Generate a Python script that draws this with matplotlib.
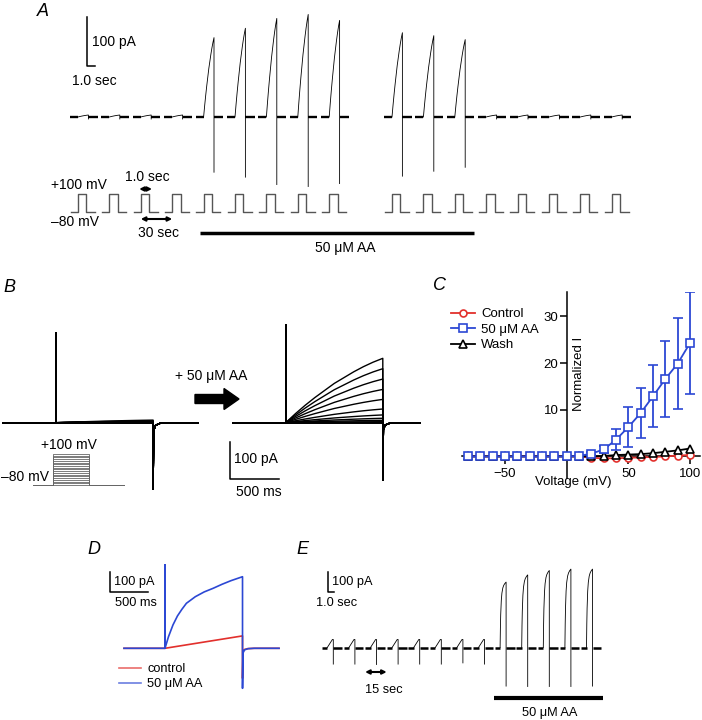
import matplotlib.pyplot as plt
from matplotlib import transforms
from matplotlib.patches import FancyArrow
from matplotlib.lines import Line2D

plt.rcParams['font.family'] = ['Liberation Sans', 'DejaVu Sans']

W, H = 702, 720

# A: one sweep every 30 s (slot 9 not recorded); peak and tail current, pA
a_slot = [0, 1, 2, 3, 4, 5, 6, 7, 8, 10, 11, 12, 13, 14, 15, 16, 17]
a_peak = [4, 4, 4, 4, 161, 180, 200, 208, 196, 171, 165, 157, 4, 4, 4, 4, 4]
a_tail = [-4, -4, -4, -4, -112, -122, -137, -141, -135, -120, -110, -102, -4, -4, -4, -4, -4]

# time course of the outward current during the step (fraction of step / of final value)
rise_t = [0, 0.1, 0.2, 0.3, 0.4, 0.5, 0.6, 0.7, 0.8, 0.9, 1.0]
rise_f = [0, 0.14, 0.27, 0.39, 0.50, 0.61, 0.70, 0.79, 0.87, 0.94, 1.0]

# B: 1 s steps from -80 to +100 mV, current at end of step, pA
b_volt = [100, 90, 80, 70, 60, 50, 40, 30, 20, 10, 0, -10, -20, -30, -40, -50, -60, -70, -80]
b_ctrl = [7, 5, 4, 3, 2.5, 2, 1.5, 1, 0.7, 0.4, 0.2, 0, 0, 0, 0, 0, 0, 0, 0]
b_aa = [174, 146, 118, 90, 63, 37, 21, 12, 6.5, 2.7, 1, 0.5, 0, 0, 0, 0, 0, 0, 0]
tail_t = [0, 6, 25, 70, 150]          # ms after end of step
tail_f = [1, 0.12, 0.04, 0.01, 0]

# C: normalised I-V
c_volt = [-80, -70, -60, -50, -40, -30, -20, -10, 0, 10, 20, 30, 40, 50, 60, 70, 80, 90, 100]
c_ctrl = [0, 0, 0, 0, 0, 0, 0, 0, 0, 0, -0.3, -0.4, -0.4, -0.3, -0.2, -0.1, 0.0, 0.2, 0.3]
c_aa = [0, 0, 0, 0, 0, 0, 0, 0, 0, 0.1, 0.6, 1.5, 3.6, 6.3, 9.3, 12.9, 16.6, 19.9, 24.3]
c_aa_err = [0, 0, 0, 0, 0, 0, 0, 0, 0, 0, 0.3, 0.8, 2.3, 4.2, 5.4, 6.7, 8.2, 9.7, 11.0]
c_wash = [0, 0, 0, 0, 0, 0, 0, 0, 0, 0, 0, 0.1, 0.3, 0.4, 0.5, 0.7, 1.0, 1.3, 1.7]

# D: averaged traces, ms from step onset / pA
d_t = [0, 45, 103, 161, 218, 276, 391, 506, 621, 735, 850, 1000]
d_aa = [0, 58, 117, 162, 195, 225, 258, 282, 300, 320, 338, 358]
d_ctrl_t = [0, 1000]
d_ctrl = [0, 62]
d_aa_spike = [417, -200]
d_ctrl_tail = -150

# E: one sweep every 15 s
e_drug = [0, 0, 0, 0, 0, 0, 0, 0, 1, 1, 1, 1, 1]
e_peak = [40, 40, 40, 40, 40, 40, 40, 40, 327, 363, 385, 392, 392]
e_tail = [-83, -83, -85, -83, -83, -83, -77, -83, -193, -195, -195, -195, -193]
e_rise_t = [0, 0.05, 0.1, 0.2, 0.3, 0.45, 0.6, 0.8, 1.0]
e_rise_f = [0, 0.3, 0.5, 0.72, 0.83, 0.91, 0.95, 0.98, 1.0]

red = '#e2302c'
blue = '#2c48d4'

fig = plt.figure(figsize=(W / 100, H / 100), dpi=100)


def px_axes(l, t, r, b, x0, sx, y0, sy):
    # axes over pixel box; data x -> px = x0 + sx*x, data y -> py = y0 - sy*y
    ax = fig.add_axes([l / W, 1 - b / H, (r - l) / W, (b - t) / H])
    ax.set_xlim((l - x0) / sx, (r - x0) / sx)
    ax.set_ylim((y0 - b) / sy, (y0 - t) / sy)
    ax.axis('off')
    return ax


def label(x, y, s, size=10, **kw):
    fig.text(x / W, 1 - y / H, s, fontsize=size, va='center', **kw)


def panel(x, y, s):
    label(x, y, s, size=13, style='italic')


ov = fig.add_axes([0, 0, 1, 1])
ov.set_xlim(0, W)
ov.set_ylim(H, 0)
ov.axis('off')
ov.set_zorder(10)

arrow_kw = dict(arrowstyle='<|-|>', color='k', lw=1.5, mutation_scale=6, shrinkA=0, shrinkB=0)

# ---------------- A
A_STEP = 3.925   # display seconds between sweeps (time axis broken)
A_RISE = 1.3
ax_a = px_axes(0, 5, W, 200, 78, 8.0, 117, 0.493)
for k, pk, tl in zip(a_slot, a_peak, a_tail):
    x0 = k * A_STEP
    x1 = x0 + A_RISE
    ax_a.plot([x0 - 1.0, x0], [0, 0], color='k', lw=1.7, solid_capstyle='butt')
    ax_a.plot([x0 + A_RISE * f for f in rise_t] + [x1],
              [pk * f for f in rise_f] + [tl], color='k', lw=0.6)
    ax_a.plot([x1, x1 + 1.15], [0, 0], color='k', lw=1.7, solid_capstyle='butt')
ax_a.plot([1.09, 1.09, 2.09], [203.4, 103.4, 103.4], color='k', lw=1.1)

ax_as = px_axes(0, 180, W, 230, 78, 8.0, 204, 0.0983)
for k in a_slot:
    x0 = k * A_STEP
    ax_as.plot([x0 - 0.9, x0, x0, x0 + 1.05, x0 + 1.05, x0 + 2.1],
               [-80, -80, 100, 100, -80, -80], color='#555555', lw=1.0)

bt_a = transforms.blended_transform_factory(ax_a.transData, ov.transData)
ov.plot([4 * A_STEP - 0.5, 12 * A_STEP + 2.4], [233, 233], color='k', lw=2.5,
        solid_capstyle='butt', transform=bt_a)
ov.annotate('', xy=(2 * A_STEP + 1.4, 189), xytext=(2 * A_STEP - 0.2, 189),
            xycoords=bt_a, textcoords=bt_a, arrowprops=arrow_kw)
ov.annotate('', xy=(3 * A_STEP, 219), xytext=(2 * A_STEP, 219),
            xycoords=bt_a, textcoords=bt_a, arrowprops=arrow_kw)

panel(37, 12, 'A')
label(92, 42, '100 pA')
label(72, 81, '1.0 sec')
label(51, 185, '+100 mV')
label(51, 222, '–80 mV')
label(147, 177, '1.0 sec', ha='center')
label(158, 233, '30 sec', ha='center')
label(345, 248, '50 μM AA', ha='center')

# ---------------- B
B_SX = 0.0971   # px per ms
ax_bl = px_axes(0, 300, 215, 500, 56, B_SX, 422.7, 0.37)
ax_br = px_axes(215, 300, 430, 500, 285.7, B_SX, 422.7, 0.37)
for ax, amps, up, dn, t_end in ((ax_bl, b_ctrl, 242, -179, 1463),
                                (ax_br, b_aa, 264, -155, 1383)):
    for a in amps:
        ts = [-545, 0, 0, 0] + [1000 * f for f in rise_t] + [1000 + d for d in tail_t] + [t_end]
        ys = [0, 0, up, 0] + [a * f for f in rise_f] + [dn * f for f in tail_f] + [0]
        ax.plot(ts, ys, color='k', lw=1.0)
ax_br.plot([-573.6, -573.6, -73.6], [-52.2, -152.2, -152.2], color='k', lw=1.1)

ax_bs = px_axes(0, 440, 140, 495, 53, 0.036, 471.2, 0.1722)
for v in b_volt:
    ax_bs.plot([-556, 0, 0, 1000, 1000, 1972], [-80, -80, v, v, -80, -80],
               color='#666666', lw=0.6)

ov.add_patch(FancyArrow(195, 399, 44, 0, width=9, head_width=21, head_length=15,
                        length_includes_head=True, color='k'))
panel(3, 287, 'B')
label(175, 376, '+ 50 μM AA')
label(69, 445, '+100 mV', ha='center')
label(1, 477, '–80 mV')
label(234, 459, '100 pA')
label(236, 492, '500 ms')

# ---------------- C
cl, ct, cr, cb = 461.9, 291.6, 699.9, 478.4
ax_c = fig.add_axes([cl / W, 1 - cb / H, (cr - cl) / W, (cb - ct) / H])
ax_c.patch.set_visible(False)
ax_c.set_xlim(-85, 108)
ax_c.set_ylim(-4.7, 35.3)
ax_c.spines[['top', 'right']].set_visible(False)
ax_c.spines['left'].set_position(('data', 0))
ax_c.spines['bottom'].set_position(('data', 0))
for s in ('left', 'bottom'):
    ax_c.spines[s].set_linewidth(1.1)
ax_c.set_xticks([-50, 50, 100])
ax_c.set_yticks([10, 20, 30])
ax_c.tick_params(axis='x', direction='out', length=6, width=1.1, pad=2, labelsize=9.5)
ax_c.tick_params(axis='y', direction='out', length=5, width=1.1, pad=1, labelsize=9.5)

mk = dict(mfc='white', mew=1.2, lw=1.3, clip_on=False)
ax_c.plot(c_volt, c_ctrl, '-o', color=red, ms=5, zorder=3, **mk)
ax_c.plot(c_volt, c_wash, '-^', color='k', ms=5.5, zorder=4, **mk)
ax_c.errorbar(c_volt, c_aa, yerr=c_aa_err, errorevery=[e > 0 for e in c_aa_err],
              fmt='-s', color=blue, ms=5.4, mfc='white', mew=1.2, lw=1.3,
              elinewidth=1.3, capsize=3.5, capthick=1.3, zorder=5)

c_handles = [Line2D([], [], color=red, marker='o', ms=5, mfc='white', mew=1.2, lw=1.3),
             Line2D([], [], color=blue, marker='s', ms=5.4, mfc='white', mew=1.2, lw=1.3),
             Line2D([], [], color='k', marker='^', ms=5.5, mfc='white', mew=1.2, lw=1.3)]
ax_c.legend(c_handles, ['Control', '50 μM AA', 'Wash'], loc='upper left',
            bbox_to_anchor=(451 / W, 1 - 308 / H), bbox_transform=fig.transFigure,
            frameon=False, fontsize=9.5, handlelength=1.8, handletextpad=0.5,
            labelspacing=0.25, borderpad=0, borderaxespad=0)

ax_c.set_xlabel('Voltage (mV)', fontsize=9.5)
ax_c.xaxis.set_label_coords((573 - cl) / (cr - cl), (cb - 482) / (cb - ct))
ax_c.xaxis.label.set_va('center')
ax_c.set_ylabel('Normalized I', fontsize=9.5)
ax_c.yaxis.set_label_coords((579.5 - cl) / (cr - cl), (cb - 373.5) / (cb - ct))
ax_c.yaxis.label.set_va('center')
panel(433, 286, 'C')

# ---------------- D
ax_d = px_axes(80, 540, 300, 700, 165, 1 / 12.9, 648.3, 0.2)
ax_d.plot([-529] + d_ctrl_t + [1000 + d for d in tail_t] + [1471],
          [0] + d_ctrl + [d_ctrl_tail * f for f in tail_f] + [0], color=red, lw=1.2)
ax_d.plot([-529, 0, 0, 0] + d_t + [1000 + d for d in tail_t] + [1471],
          [0, 0, d_aa_spike[0], 0] + d_aa + [d_aa_spike[1] * f for f in tail_f] + [0],
          color=blue, lw=1.2)
ax_d.plot([-713, -713, -213], [383, 283, 283], color='k', lw=1.1)
d_handles = [Line2D([], [], color=red, lw=1.2, alpha=0.7),
             Line2D([], [], color=blue, lw=1.2, alpha=0.7)]
ax_d.legend(d_handles, ['control', '50 μM AA'], loc='upper left',
            bbox_to_anchor=(119 / W, 1 - 663 / H), bbox_transform=fig.transFigure,
            frameon=False, fontsize=9.2, handlelength=1.7, handletextpad=0.5,
            labelspacing=0.25, borderpad=0, borderaxespad=0)
panel(87, 550, 'D')
label(114, 582, '100 pA', size=9.2)
label(115, 603, '500 ms', size=9.2)

# ---------------- E
E_STEP = 3.6
ax_e = px_axes(295, 540, W, 700, 327.3, 6.0, 647.5, 0.2)
for k, (dr, pk, tl) in enumerate(zip(e_drug, e_peak, e_tail)):
    x0 = k * E_STEP
    x1 = x0 + 1.0
    tf, ff = (e_rise_t, e_rise_f) if dr else ([0, 0.85, 1.0], [0, 1.0, 1.0])
    ax_e.plot([x0 - 0.9, x0], [0, 0], color='k', lw=1.8, solid_capstyle='butt')
    ax_e.plot([x0 + f for f in tf] + [x1], [pk * f for f in ff] + [tl],
              color='k', lw=0.6)
    ax_e.plot([x1, x1 + 1.4], [0, 0], color='k', lw=1.8, solid_capstyle='butt')
ax_e.plot([0.07, 0.07, 1.07], [379, 279, 279], color='k', lw=1.1)

bt_e = transforms.blended_transform_factory(ax_e.transData, ov.transData)
ov.plot([8 * E_STEP - 1.0, 12 * E_STEP + 2.8], [698, 698], color='k', lw=3,
        solid_capstyle='butt', transform=bt_e)
ov.annotate('', xy=(2 * E_STEP + 2.7, 672), xytext=(E_STEP + 2.7, 672),
            xycoords=bt_e, textcoords=bt_e, arrowprops=arrow_kw)
panel(296, 550, 'E')
label(332, 582, '100 pA', size=9.2)
label(316, 603, '1.0 sec', size=9.2)
label(365, 690, '15 sec', size=9.2)
label(550, 713, '50 μM AA', size=9.2, ha='center')

fig.savefig('out.png', dpi=100)
